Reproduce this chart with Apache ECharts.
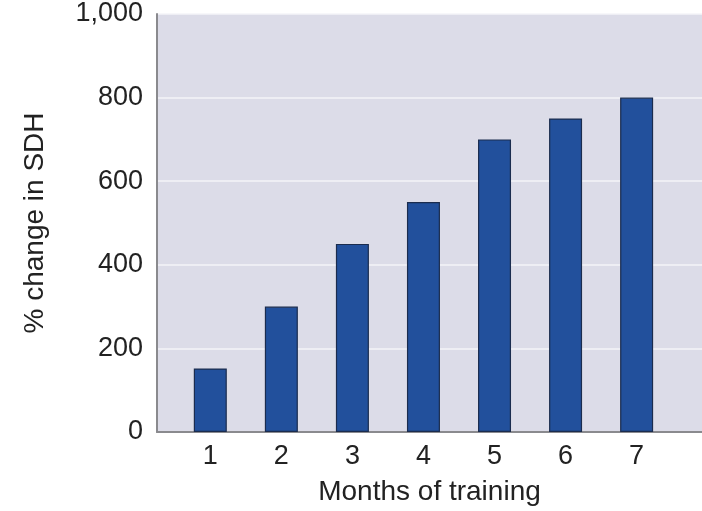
<!DOCTYPE html>
<html>
<head>
<meta charset="utf-8">
<script src="https://cdn.jsdelivr.net/npm/echarts@6/dist/echarts.min.js"></script>
<style>
html,body{margin:0;padding:0;background:#fff;}
#chart{width:702px;height:511px;}
</style>
</head>
<body>
<div id="chart"></div>
<script>
const months = [1, 2, 3, 4, 5, 6, 7];
const sdhChange = [152, 300, 450, 550, 700, 750, 800];
const yTicks = [0, 200, 400, 600, 800, 1000];
const xTitle = 'Months of training';
const yTitle = '% change in SDH';

const chart = echarts.init(document.getElementById('chart'), null, {renderer: 'canvas'});
const font = 'Liberation Sans, Arial, Helvetica, sans-serif';
chart.setOption({
  animation: false,
  grid: {left: 157, top: 14, right: 0, bottom: 79, show: true, backgroundColor: '#dcdce8', borderWidth: 0,
         containLabel: false, outerBoundsMode: 'none'},
  xAxis: {
    type: 'value', min: 0.25, max: 7.92,
    name: xTitle, nameLocation: 'middle', nameGap: 46,
    nameTextStyle: {fontFamily: font, fontSize: 28, color: '#222'},
    axisLine: {show: true, onZero: false, lineStyle: {color: '#8a8a8e', width: 2}},
    axisTick: {show: false},
    splitLine: {show: false},
    axisLabel: {
      customValues: months, fontFamily: font, fontSize: 27, color: '#222', margin: 11,
      formatter: v => String(v)
    }
  },
  yAxis: {
    type: 'value', min: yTicks[0], max: yTicks[yTicks.length - 1], interval: 200,
    name: yTitle, nameLocation: 'middle', nameGap: 108, nameRotate: 90,
    nameTextStyle: {fontFamily: font, fontSize: 28, color: '#222'},
    axisLine: {show: true, lineStyle: {color: '#8a8a8e', width: 2}},
    axisTick: {show: false},
    splitLine: {show: true, lineStyle: {color: '#f4f4f8', width: 1.5}},
    axisLabel: {
      fontFamily: font, fontSize: 27, color: '#222', margin: 14,
      formatter: v => v.toLocaleString('en-US')
    }
  },
  series: [{
    type: 'bar',
    data: months.map((m, i) => [m, sdhChange[i]]),
    barWidth: 33,
    itemStyle: {color: '#22509c', borderColor: '#1b2c4e', borderWidth: 1.2}
  }]
});
</script>
</body>
</html>
